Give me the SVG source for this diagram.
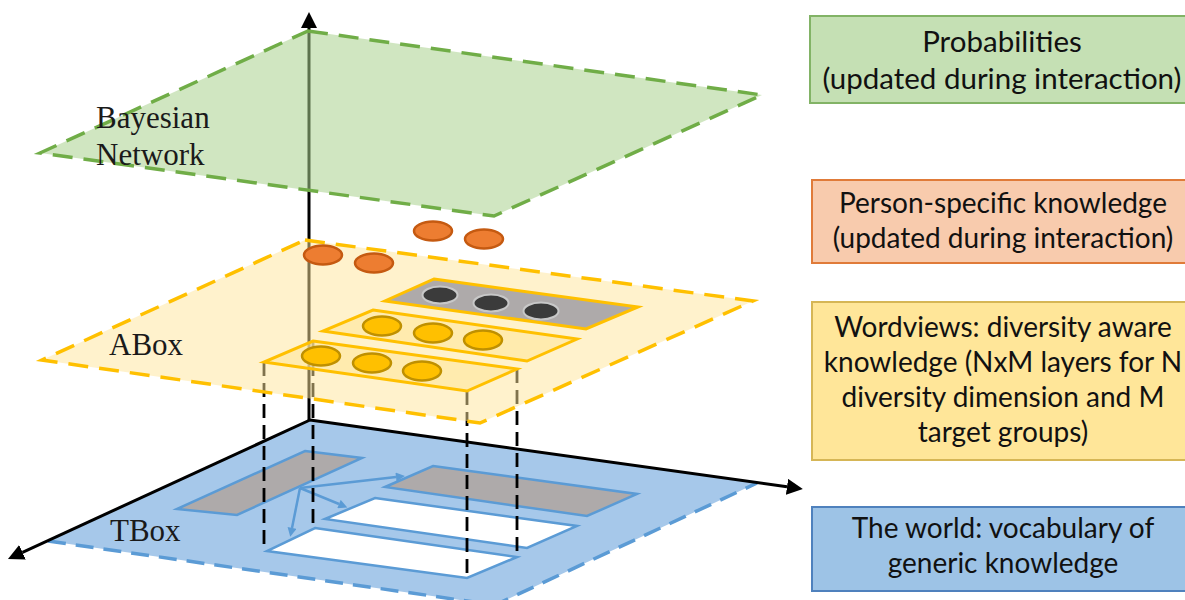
<svg xmlns="http://www.w3.org/2000/svg" width="1185" height="600" viewBox="0 0 1185 600">
  <style>
    .lbl { font-family: "Liberation Serif", "Times New Roman", serif; font-size: 31px; fill: #1a1a1a; }
    .box { font-family: Lato, "Liberation Sans", sans-serif; font-size: 28px; fill: #111; text-anchor: middle; }
    .big { font-size: 29.5px; }
    .inner { stroke: #5b9bd5; stroke-width: 2.5; stroke-linejoin: miter; }
    .ysub { stroke: #ffc000; stroke-width: 3; }
    .ycirc { fill: #ffc000; stroke: #bf9000; stroke-width: 2.5; }
    .ocirc { fill: #ed7d31; stroke: #c55a11; stroke-width: 2.5; }
    .dcirc { fill: #3b3b3b; stroke: #c8c8c8; stroke-width: 2; }
    .axis { stroke: #000; stroke-width: 3; fill: none; }
    .proj { stroke: #000; stroke-width: 2.8; stroke-dasharray: 14 7; fill: none; }
    .barrow { stroke: #5b9bd5; stroke-width: 2.5; fill: none; }
  </style>
  <defs>
    <marker id="ah" viewBox="0 0 16 16" refX="0" refY="8" markerWidth="16" markerHeight="16" markerUnits="userSpaceOnUse" orient="auto">
      <path d="M0,0 L16,8 L0,16 z" fill="#000"/>
    </marker>
    <marker id="bh" viewBox="0 0 10 10" refX="0" refY="5" markerWidth="10" markerHeight="9" markerUnits="userSpaceOnUse" orient="auto">
      <path d="M0,0 L10,5 L0,10 z" fill="#5b9bd5"/>
    </marker>
  </defs>

  <rect width="1185" height="600" fill="#ffffff"/>

  <!-- TBox plane -->
  <g id="tbox-plane">
    <polygon points="310,420 757,483 495,605 48,541" fill="#a6c8ea"/>
    <polyline points="48,541 495,605 757,483" fill="none" stroke="#5b9bd5" stroke-width="3.5" stroke-dasharray="18 10"/>
    <polygon class="inner" points="305,451 362,458 237,515 177,509" fill="#aeaaaa"/>
    <polygon class="inner" points="433,466 637,494 587,516 385,487" fill="#aeaaaa"/>
    <polygon class="inner" points="375,498 577,526 527,548 325,519" fill="#ffffff"/>
    <polygon class="inner" points="315,528 517,557 467,578 267,551" fill="#ffffff"/>
    <text class="lbl" x="110" y="541">TBox</text>
  </g>

  <g id="connectors">
    <line class="barrow" x1="300" y1="488" x2="396" y2="477" marker-end="url(#bh)"/>
    <line class="barrow" x1="300" y1="488" x2="339" y2="504" marker-end="url(#bh)"/>
    <line class="barrow" x1="300" y1="488" x2="292" y2="528" marker-end="url(#bh)"/>
    <line class="proj" x1="264" y1="362" x2="264" y2="551"/>
    <line class="proj" x1="313" y1="341" x2="313" y2="528"/>
    <line class="proj" x1="467" y1="391" x2="467" y2="578"/>
    <line class="proj" x1="517" y1="369" x2="517" y2="557"/>
    <line class="axis" x1="310" y1="420" x2="787" y2="486.8" marker-end="url(#ah)"/>
    <line class="axis" x1="310" y1="420" x2="22.5" y2="552.3" marker-end="url(#ah)"/>
    <line class="axis" x1="309" y1="420" x2="309" y2="28" marker-end="url(#ah)"/>
  </g>

  <!-- ABox plane -->
  <g id="abox-plane">
    <polygon points="305,240 753,301 480,423 42,360" fill="#ffe699" fill-opacity="0.5" stroke="#ffc000" stroke-width="3.5" stroke-dasharray="20 11"/>
    <text class="lbl" x="109" y="355">ABox</text>
  </g>

  <g id="worldview-gray">
    <polygon class="ysub" points="434,279 638,307 586,329 385,301" fill="#aeaaaa"/>
    <ellipse class="dcirc" cx="440" cy="295" rx="17.5" ry="8.5"/>
    <ellipse class="dcirc" cx="491" cy="303" rx="17.5" ry="8.5"/>
    <ellipse class="dcirc" cx="541" cy="311" rx="17.5" ry="8.5"/>
  </g>
  <g id="worldview-middle">
    <polygon class="ysub" points="373,310 577,339 527,361 323,331" fill="#ffe699" fill-opacity="0.6"/>
    <ellipse class="ycirc" cx="382" cy="326" rx="19" ry="9.5"/>
    <ellipse class="ycirc" cx="433" cy="333" rx="19" ry="9.5"/>
    <ellipse class="ycirc" cx="483" cy="340" rx="19" ry="9.5"/>
  </g>
  <g id="worldview-bottom">
    <polygon class="ysub" points="313,341 517,369 467,391 264,362" fill="#ffe699" fill-opacity="0.6"/>
    <ellipse class="ycirc" cx="321" cy="356" rx="19" ry="9.5"/>
    <ellipse class="ycirc" cx="372" cy="363" rx="19" ry="9.5"/>
    <ellipse class="ycirc" cx="422" cy="371" rx="19" ry="9.5"/>
  </g>

  <g id="person-specific">
    <ellipse class="ocirc" cx="323" cy="255" rx="19" ry="9.5"/>
    <ellipse class="ocirc" cx="374" cy="263" rx="19" ry="9.5"/>
    <ellipse class="ocirc" cx="433" cy="231" rx="19" ry="9.5"/>
    <ellipse class="ocirc" cx="484" cy="239" rx="19" ry="9.5"/>
  </g>

  <!-- Bayesian network plane -->
  <g id="bayesian-plane">
    <polygon points="308,31 762,95 494,216 40,153" fill="#a9d18e" fill-opacity="0.55" stroke="#70ad47" stroke-width="3.5" stroke-dasharray="20 11"/>
    <text class="lbl" x="96" y="128">Bayesian</text>
    <text class="lbl" x="96" y="165">Network</text>
  </g>

  <!-- Legend boxes -->
  <g id="legend-probabilities">
    <rect x="810" y="16" width="386" height="87" fill="#c5e0b4" stroke="#82b366" stroke-width="2"/>
    <text class="box big" x="1002" y="52">Probabilities</text>
    <text class="box big" x="1002" y="89">(updated during interaction)</text>
  </g>
  <g id="legend-person">
    <rect x="812" y="180" width="384" height="83" fill="#f8cbad" stroke="#e07b39" stroke-width="2"/>
    <text class="box" x="1003" y="213">Person-specific knowledge</text>
    <text class="box" x="1003" y="248">(updated during interaction)</text>
  </g>
  <g id="legend-worldviews">
    <rect x="812" y="302" width="384" height="158" fill="#ffe699" stroke="#d6b656" stroke-width="2"/>
    <text class="box" x="1003" y="337">Wordviews: diversity aware</text>
    <text class="box" x="1003" y="372">knowledge (NxM layers for N</text>
    <text class="box" x="1003" y="407">diversity dimension and M</text>
    <text class="box" x="1003" y="442">target groups)</text>
  </g>
  <g id="legend-world">
    <rect x="812" y="507" width="384" height="84" fill="#9dc3e6" stroke="#4f81bd" stroke-width="2"/>
    <text class="box" x="1003" y="538">The world: vocabulary of</text>
    <text class="box" x="1003" y="573">generic knowledge</text>
  </g>
</svg>
